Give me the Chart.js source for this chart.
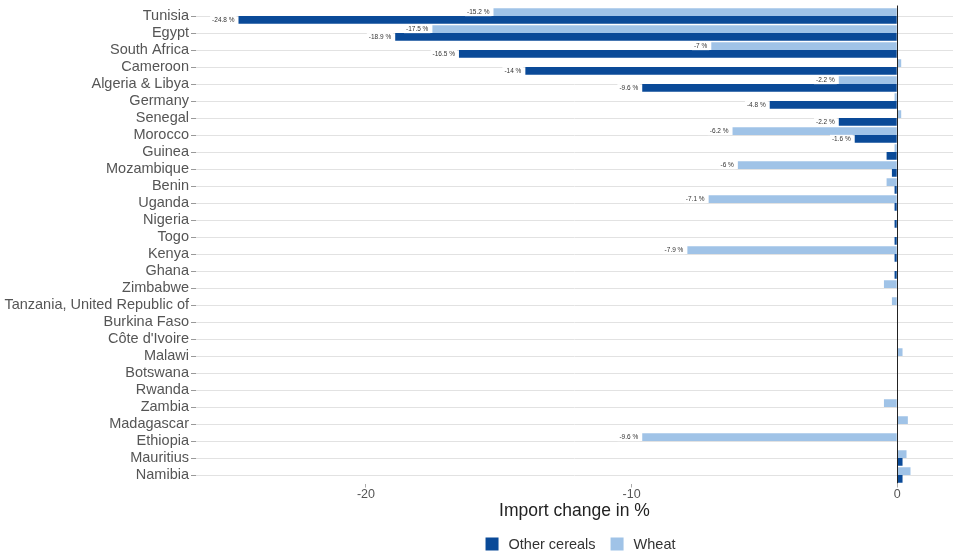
<!DOCTYPE html>
<html>
<head>
<meta charset="utf-8">
<script src="https://cdn.jsdelivr.net/npm/chart.js@4.4.0/dist/chart.umd.min.js"></script>
<style>
html, body { margin: 0; padding: 0; background: #fff; }
</style>
</head>
<body>
<canvas id="chart" width="960" height="556"></canvas>
<script>
var countries = ["Tunisia", "Egypt", "South Africa", "Cameroon", "Algeria & Libya", "Germany", "Senegal",
    "Morocco", "Guinea", "Mozambique", "Benin", "Uganda", "Nigeria", "Togo", "Kenya", "Ghana", "Zimbabwe",
    "Tanzania, United Republic of", "Burkina Faso", "Côte d'Ivoire", "Malawi", "Botswana", "Rwanda",
    "Zambia", "Madagascar", "Ethiopia", "Mauritius", "Namibia"];

var otherCereals = [-24.8, -18.9, -16.5, -14, -9.6, -4.8, -2.2, -1.6, -0.4, -0.2, -0.1, -0.1, -0.1, -0.1,
    -0.1, -0.1, 0, 0, 0, 0, 0, 0, 0, 0, 0, 0, 0.2, 0.2];

var wheat = [-15.2, -17.5, -7, 0.15, -2.2, -0.1, 0.15, -6.2, -0.1, -6, -0.4, -7.1, 0, 0, -7.9, 0, -0.5,
    -0.2, 0, 0, 0.2, 0, 0, -0.5, 0.4, -9.6, 0.35, 0.5];

var xTicks = [-20, -10, 0];
var legendOrder = [1, 0]; // Other cereals first, then Wheat

var fontFamily = '"Liberation Sans", Arial, sans-serif';

// zero line, little "-24.8 %" tags at the bar ends, and the legend under the axis title
var extras = {
    id: 'extras',
    afterDatasetsDraw: function(chart) {
        var ctx = chart.ctx;
        var area = chart.chartArea;
        var x0 = chart.scales.x.getPixelForValue(0);
        ctx.save();
        ctx.strokeStyle = '#222';
        ctx.lineWidth = 1;
        ctx.beginPath();
        ctx.moveTo(Math.round(x0) + 0.5, area.top - 2);
        ctx.lineTo(Math.round(x0) + 0.5, area.bottom);
        ctx.stroke();

        ctx.font = '6.5px ' + fontFamily;
        ctx.textAlign = 'right';
        ctx.textBaseline = 'middle';
        chart.data.datasets.forEach(function(ds, i) {
            var meta = chart.getDatasetMeta(i);
            meta.data.forEach(function(bar, j) {
                var v = ds.data[j];
                if (Math.abs(v) < 1) return;
                var txt = v + ' %';
                var w = ctx.measureText(txt).width;
                var x = bar.x - 4;
                ctx.fillStyle = 'rgba(255,255,255,0.9)';
                ctx.fillRect(x - w - 2, bar.y - 4, w + 4, 8);
                ctx.fillStyle = '#333';
                ctx.fillText(txt, x, bar.y);
            });
        });

        // legend
        ctx.font = '14.5px ' + fontFamily;
        ctx.textAlign = 'left';
        var box = 13, gapBox = 10, gapItem = 15;
        var total = 0;
        legendOrder.forEach(function(i, k) {
            total += box + gapBox + ctx.measureText(chart.data.datasets[i].label).width;
            if (k > 0) total += gapItem;
        });
        var lx = (area.left + area.right) / 2 - total / 2 + 6;
        var ly = chart.height - 12;
        legendOrder.forEach(function(i) {
            var ds = chart.data.datasets[i];
            ctx.fillStyle = ds.backgroundColor;
            ctx.fillRect(lx, ly - box / 2, box, box);
            ctx.fillStyle = '#333';
            ctx.fillText(ds.label, lx + box + gapBox, ly + 1);
            lx += box + gapBox + ctx.measureText(ds.label).width + gapItem;
        });
        ctx.restore();
    }
};

var ctx = document.getElementById("chart");
var chartBars = new Chart(ctx, {
    type: 'bar',
    data: {
        labels: countries,
        datasets: [{
            label: 'Wheat',
            data: wheat,
            backgroundColor: '#a0c3e7',
            barPercentage: 1,
            categoryPercentage: 0.9
        }, {
            label: 'Other cereals',
            data: otherCereals,
            backgroundColor: '#0a4a98',
            barPercentage: 1,
            categoryPercentage: 0.9
        }]
    },
    options: {
        indexAxis: 'y',
        responsive: false,
        animation: false,
        layout: {
            padding: { top: 7.5, right: 7, left: 0, bottom: 36 }
        },
        plugins: {
            legend: { display: false },
            tooltip: { enabled: false }
        },
        scales: {
            x: {
                min: -26.4,
                max: 2.1,
                afterBuildTicks: function(scale) {
                    scale.ticks = xTicks.map(function(v) { return { value: v }; });
                },
                ticks: {
                    color: '#555',
                    padding: 0,
                    font: { family: fontFamily, size: 12.5 }
                },
                grid: {
                    drawOnChartArea: false,
                    tickLength: 4,
                    tickColor: '#aaa'
                },
                border: { display: false },
                title: {
                    display: true,
                    text: 'Import change in %',
                    color: '#222',
                    font: { family: fontFamily, size: 17.5, lineHeight: 1 },
                    padding: { top: 0, bottom: 0 }
                }
            },
            y: {
                afterFit: function(scale) {
                    scale.width = 196;
                    scale.paddingTop = 0;
                    scale.paddingBottom = 0;
                },
                ticks: {
                    autoSkip: false,
                    color: '#555',
                    padding: 2,
                    font: { family: fontFamily, size: 14.5 }
                },
                grid: {
                    offset: false,
                    color: '#e2e2e2',
                    tickLength: 5,
                    tickColor: '#999'
                },
                border: { display: false }
            }
        }
    },
    plugins: [extras]
});
</script>
</body>
</html>
